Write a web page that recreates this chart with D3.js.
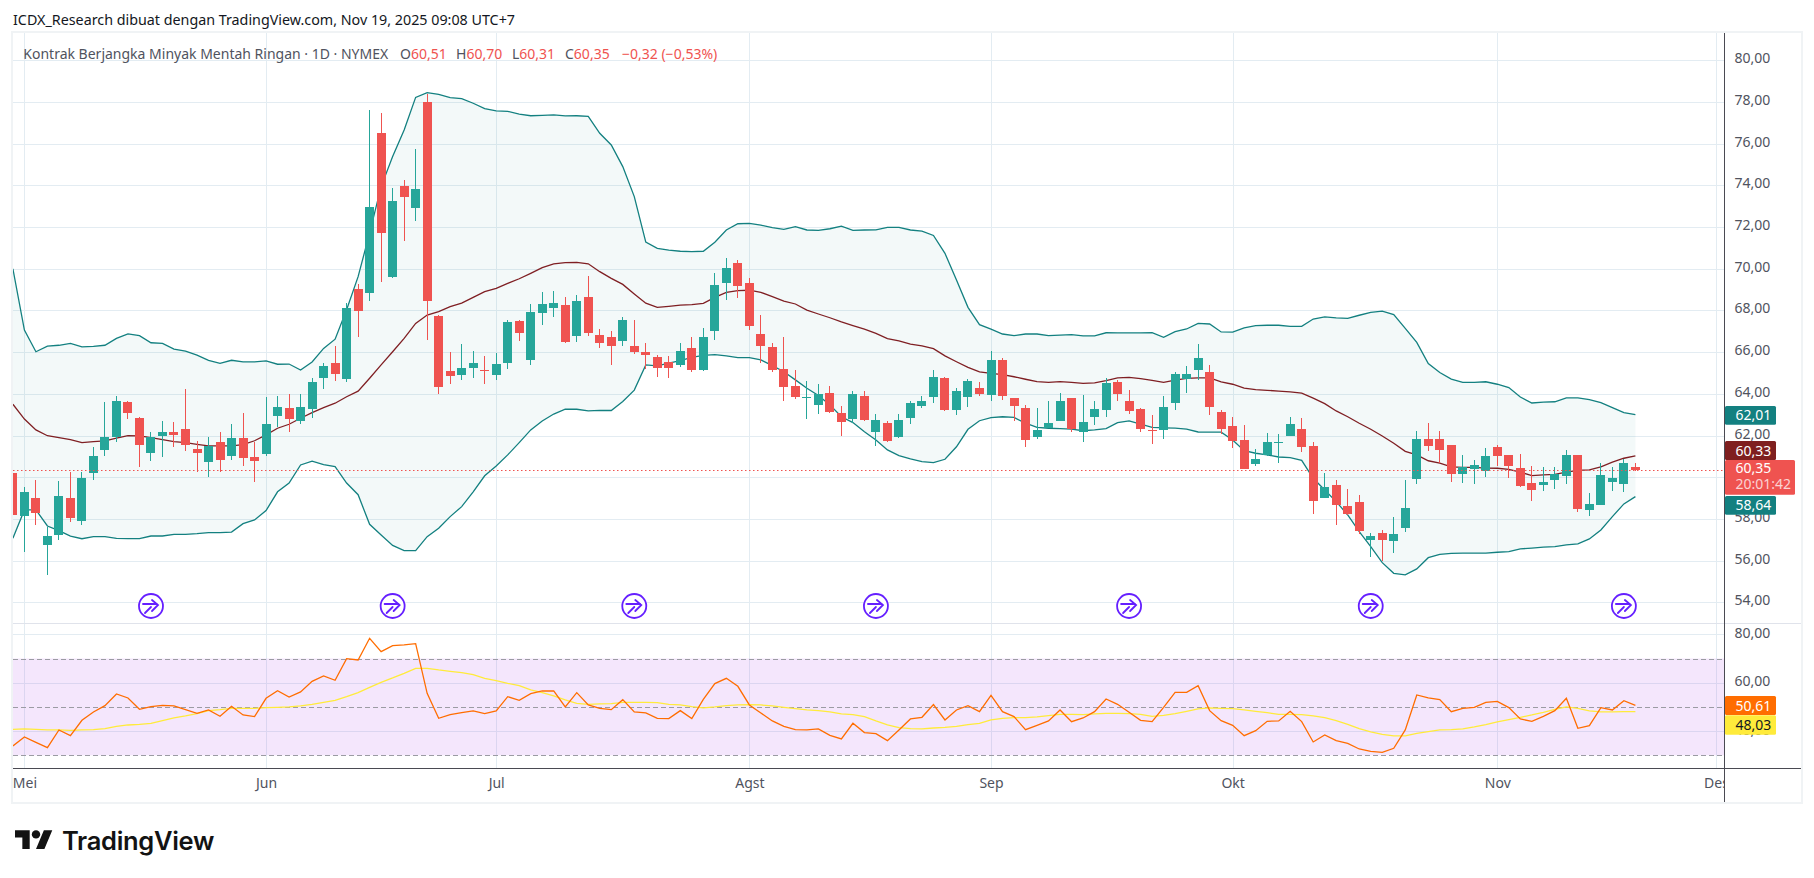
<!DOCTYPE html>
<html lang="id">
<head>
<meta charset="UTF-8">
<title>Kontrak Berjangka Minyak Mentah Ringan</title>
<script src="https://cdn.jsdelivr.net/npm/d3@7/dist/d3.min.js"></script>
<style>
	html, body { margin: 0; padding: 0; background: #fff; }
	svg { display: block; }
	text { font-family: "Noto Sans", sans-serif; }
</style>
</head>
<body>
<script>
// daily bars, first one is the bar cut off by the left edge
const opens = [60.18,58.13,58.98,56.73,57.22,58.98,57.88,60.23,61.33,61.95,63.63,62.86,61.19,61.95,62.15,62.29,61.33,60.75,61.71,60.99,61.86,60.95,
	61.09,62.96,63.34,62.72,63.30,64.76,65.46,64.73,69.05,68.86,76.53,69.62,73.99,72.93,78.02,67.75,65.11,64.92,65.26,65.16,
	64.92,65.50,67.51,65.64,67.90,68.14,68.28,66.79,68.66,66.84,66.75,66.55,66.31,66.03,65.79,65.53,65.36,66.18,65.12,66.99,69.30,70.30,
	69.34,66.85,66.23,65.17,64.36,63.84,63.45,64.02,63.06,62.77,63.92,62.15,62.58,61.91,62.82,63.45,63.83,64.74,63.25,63.83,64.26,
	63.92,65.63,63.81,63.33,61.94,62.37,62.71,63.81,62.18,62.90,63.23,64.58,63.67,63.28,62.27,62.27,63.57,64.72,65.15,65.06,63.14,
	62.47,61.80,60.64,61.08,61.68,61.99,62.32,61.50,59.00,59.62,58.61,58.80,56.98,57.32,56.93,57.56,59.91,61.82,61.82,61.54,60.15,60.39,60.29,
	61.44,61.06,60.43,59.71,59.62,59.86,60.05,61.06,58.42,58.66,59.76,59.67,60.51]
const highs = [60.40,59.51,59.89,57.60,59.84,60.27,60.27,61.47,63.63,63.92,63.68,62.91,62.19,62.72,62.63,64.21,61.76,61.91,62.15,62.53,63.06,61.71,
	63.87,63.92,63.97,63.97,64.78,65.46,66.30,68.38,69.29,77.63,77.49,73.89,74.27,75.76,78.40,67.80,66.03,66.41,66.07,65.83,
	65.98,67.56,67.56,68.33,68.90,68.95,68.66,68.76,69.67,67.13,67.03,67.70,67.56,66.46,65.88,65.82,66.42,66.75,67.14,69.78,70.54,70.40,
	69.58,67.76,66.42,66.75,65.12,64.60,64.45,64.36,63.40,64.12,64.16,63.01,62.68,63.01,63.68,63.92,65.12,64.79,64.26,64.69,64.55,
	66.04,65.73,63.81,63.47,63.33,63.67,64.05,63.81,63.95,63.67,64.77,64.67,64.19,63.33,62.99,63.91,65.06,65.34,66.40,65.39,63.23,
	62.90,62.51,61.36,62.13,62.08,62.90,62.85,61.69,60.19,59.86,59.43,59.14,57.32,57.46,58.08,59.86,62.21,62.59,62.21,61.54,61.06,60.82,61.39,
	61.54,61.06,61.10,60.53,60.48,60.48,61.30,61.06,59.23,60.67,60.48,60.86,60.70]
const lows = [58.00,56.41,57.73,55.29,57.01,57.83,57.73,59.89,61.04,61.67,62.77,60.47,60.80,60.99,61.47,61.28,60.27,60.03,60.27,60.85,60.56,59.75,
	61.04,62.39,62.19,62.53,62.82,64.25,64.62,64.59,66.75,68.47,69.38,69.57,71.35,72.31,66.60,64.01,64.49,64.68,64.78,64.49,
	64.68,65.21,66.55,65.40,67.32,67.70,66.46,66.51,66.79,66.22,65.40,66.31,65.93,65.21,64.83,64.76,65.30,65.03,65.08,66.56,68.48,68.58,
	67.04,65.46,65.03,63.64,63.73,62.77,63.01,63.06,61.96,62.58,62.68,61.48,61.67,61.86,62.53,63.30,63.54,63.16,62.97,63.35,63.88,
	63.68,63.71,62.71,61.46,61.84,62.37,62.71,62.18,61.70,62.51,62.90,63.67,63.04,62.18,61.60,61.84,63.23,64.05,64.67,62.99,62.08,
	61.41,60.40,60.55,61.00,60.69,61.99,61.22,58.24,59.00,57.70,58.20,57.27,56.16,55.97,56.36,57.36,59.67,61.25,60.67,59.76,59.71,59.67,60.00,
	60.53,59.95,59.52,58.85,59.33,59.43,59.67,58.32,58.13,58.66,59.33,59.28,60.31]
const closes = [58.16,59.27,58.26,57.16,59.08,58.02,59.94,61.04,61.95,63.68,63.10,61.57,61.95,62.15,62.00,61.52,61.14,61.52,60.85,61.86,60.90,60.75,
	62.53,63.39,62.82,63.39,64.59,65.34,64.95,68.14,67.99,72.98,71.73,73.27,73.46,73.84,68.47,64.35,64.87,65.26,65.50,65.11,
	65.45,67.46,66.94,67.94,68.33,68.38,66.51,68.47,66.94,66.46,66.31,67.56,66.03,65.88,65.26,65.24,66.04,65.12,66.71,69.20,70.02,69.20,
	67.28,66.28,65.12,64.31,63.83,63.87,63.97,63.11,62.63,63.97,62.77,62.73,61.72,62.73,63.54,63.68,64.79,63.21,64.16,64.60,63.97,
	65.60,63.91,63.43,61.80,62.28,62.61,63.67,62.32,62.66,63.28,64.53,64.00,63.19,62.32,62.23,63.38,64.96,64.96,65.73,63.38,62.32,
	61.75,60.40,60.88,61.70,61.70,62.56,61.46,58.86,59.52,58.66,58.23,57.41,57.17,56.98,57.27,58.51,61.82,61.49,61.30,60.15,60.48,60.58,61.01,
	61.01,60.53,59.57,59.38,59.76,60.15,61.06,58.47,58.71,60.10,59.95,60.67,60.35]

const bbUpper = [70.00,67.06,66.02,66.29,66.33,66.42,66.25,66.28,66.33,66.66,66.88,66.79,66.45,66.42,66.15,66.05,65.86,65.61,65.46,65.61,65.53,65.53,
	65.58,65.42,65.43,65.14,65.53,66.18,66.62,68.03,69.62,71.72,73.94,75.38,76.66,78.22,78.45,78.37,78.21,78.16,77.94,77.68,
	77.57,77.55,77.42,77.34,77.36,77.38,77.33,77.34,77.31,76.50,75.94,74.90,73.46,71.28,70.98,70.89,70.84,70.82,70.84,71.27,71.86,72.16,
	72.18,72.09,71.97,71.89,72.02,71.86,71.84,71.92,72.04,71.84,71.86,71.87,71.99,71.99,71.86,71.81,71.60,70.74,69.46,68.15,67.32,
	67.10,66.87,66.79,66.87,66.87,66.79,66.82,66.84,66.78,66.78,66.93,66.92,66.92,66.92,66.93,66.71,66.98,67.11,67.38,67.35,66.97,
	66.96,67.16,67.27,67.29,67.29,67.24,67.24,67.59,67.69,67.64,67.62,67.77,67.91,67.97,67.80,67.14,66.47,65.45,65.02,64.71,64.55,64.55,64.58,
	64.46,64.30,63.85,63.56,63.60,63.62,63.81,63.81,63.72,63.58,63.34,63.10,63.00]
const bbBasis = [63.50,62.79,62.27,61.99,61.90,61.80,61.66,61.71,61.74,61.87,61.99,61.98,61.90,61.80,61.71,61.66,61.58,61.50,61.50,61.50,61.56,61.75,
	62.03,62.35,62.54,62.83,63.10,63.34,63.55,63.86,64.13,64.75,65.39,66.02,66.66,67.38,67.78,67.94,68.18,68.35,68.63,68.90,
	69.06,69.30,69.52,69.78,70.05,70.23,70.29,70.31,70.24,69.86,69.54,69.25,68.79,68.35,68.15,68.20,68.26,68.28,68.34,68.63,68.87,68.95,
	68.97,68.87,68.66,68.45,68.31,68.02,67.83,67.65,67.45,67.27,67.10,66.90,66.65,66.54,66.38,66.30,66.17,65.82,65.54,65.27,65.05,
	64.98,64.92,64.82,64.70,64.59,64.55,64.59,64.55,64.50,64.53,64.63,64.77,64.79,64.73,64.65,64.55,64.66,64.74,64.77,64.77,64.57,
	64.46,64.27,64.20,64.17,64.13,64.09,64.03,63.79,63.53,63.18,62.90,62.59,62.30,61.98,61.63,61.24,61.07,60.79,60.68,60.50,60.47,60.47,60.44,
	60.43,60.38,60.24,60.08,60.11,60.14,60.24,60.33,60.35,60.50,60.72,60.91,61.02]
const bbLower = [57.07,58.43,58.43,57.66,57.44,57.18,57.05,57.15,57.15,57.07,57.05,57.05,57.18,57.18,57.26,57.26,57.29,57.34,57.34,57.37,57.77,57.95,
	58.40,59.30,59.72,60.59,60.77,60.60,60.51,59.72,59.16,57.74,57.23,56.73,56.48,56.48,57.15,57.55,58.11,58.59,59.30,60.07,
	60.54,61.07,61.66,62.27,62.70,63.03,63.26,63.26,63.18,63.21,63.20,63.63,64.18,65.39,65.34,65.47,65.59,65.75,65.85,65.88,65.82,65.74,
	65.74,65.63,65.35,65.06,64.67,64.27,63.92,63.47,62.90,62.62,62.18,61.79,61.31,61.04,60.88,60.75,60.70,60.86,61.46,62.30,62.71,
	62.86,62.90,62.87,62.59,62.39,62.35,62.33,62.31,62.23,62.27,62.33,62.62,62.70,62.55,62.39,62.37,62.36,62.31,62.17,62.16,62.16,
	61.79,61.27,61.15,61.07,60.97,60.94,60.81,59.95,59.39,58.83,58.19,57.39,56.67,55.90,55.39,55.32,55.60,56.14,56.30,56.35,56.36,56.36,56.36,
	56.40,56.43,56.56,56.60,56.65,56.67,56.75,56.80,57.04,57.47,58.11,58.72,59.07]

const rsiValues = [33.86,37.58,35.37,33.17,40.47,38.13,44.46,47.90,50.52,55.34,53.69,49.00,50.11,50.66,50.39,48.87,47.36,48.73,46.12,50.25,46.67,45.98,
	53.55,56.72,54.10,56.17,60.58,62.78,60.99,69.94,69.39,78.35,72.84,75.32,75.59,76.14,55.62,45.29,46.80,47.63,48.32,47.22,
	48.32,54.24,52.73,55.48,56.58,56.58,49.97,55.90,50.80,49.42,48.87,53.00,47.91,47.49,45.29,45.15,48.46,45.15,53.14,59.61,61.82,58.51,
	50.80,47.49,44.19,41.98,40.61,40.47,40.88,38.26,36.75,43.22,39.37,38.95,36.06,40.47,45.01,45.70,50.94,44.60,48.73,50.52,48.04,
	54.79,48.04,45.98,40.61,42.40,44.19,48.73,43.91,45.43,48.04,53.28,51.07,47.77,44.46,43.91,49.83,56.03,56.03,58.79,48.46,44.33,
	42.40,38.13,40.19,44.05,44.19,48.18,43.91,35.51,38.40,36.06,34.96,32.62,31.65,31.24,32.89,40.47,54.93,53.69,53.00,48.04,49.42,49.83,51.90,
	52.31,49.70,45.01,44.05,46.12,48.46,53.55,41.16,42.26,49.70,48.73,52.59,50.61]
const rsiMa = [40.74,40.88,40.74,40.47,40.47,40.33,40.47,40.60,41.02,41.98,42.53,42.81,43.22,44.33,45.43,46.25,47.22,48.46,48.87,49.42,49.42,49.42,
	49.70,49.83,49.97,50.39,51.07,51.90,52.73,54.24,55.90,58.10,60.17,61.96,63.88,65.95,65.95,65.26,64.71,64.16,63.33,61.82,
	60.85,59.75,58.79,57.00,55.90,54.52,52.87,51.49,51.07,51.21,51.35,51.90,51.90,51.90,51.76,51.07,50.80,50.11,49.56,49.97,50.52,50.80,
	50.94,50.80,50.39,49.83,49.28,48.73,48.46,47.91,47.08,46.80,45.98,44.19,42.53,41.43,41.02,40.88,41.29,41.57,41.98,42.67,43.22,
	44.60,45.29,45.56,45.56,45.84,46.39,46.94,46.94,46.80,47.08,47.36,47.36,47.22,46.94,46.12,46.53,47.22,48.18,49.15,49.56,49.42,
	49.28,48.73,48.18,47.63,46.94,46.94,46.80,46.25,45.56,44.33,42.81,41.02,39.64,38.68,37.99,37.99,39.09,39.78,40.47,40.61,40.88,41.71,42.67,
	43.77,44.74,45.70,46.67,47.77,48.99,49.97,49.42,48.32,47.91,47.91,48.04,48.03]

const priceTicks = [54,56,58,60,62,64,66,68,70,72,74,76,78,80]
const rsiTicks = [40,60,80]
const rsiLevels = [70,50,30]
const monthBars = [0,21,41,63,84,105,128,147]
const monthNames = ['Mei','Jun','Jul','Agst','Sep','Okt','Nov','Des']
const eventBars = [11,32,53,74,96,117,139]

const bars = closes.map((c, i) => ({ i: i - 1, o: opens[i], h: highs[i], l: lows[i], c: c }))

const W = 1814, H = 878
const paneL = 13, paneR = 1801, axisX = 1724.5, paneT = 33, paneB = 802
const sepY = 623.5, timeY = 768.5

const x = d3.scaleLinear().domain([-1, 140]).range([12.9, 1635.4])
const y = d3.scaleLinear().domain([54, 80]).range([602.3, 60.3])
const yRsi = d3.scaleLinear().domain([30, 80]).range([755.3, 634.3])

const GRID = '#e3ecf2', TXT = '#50535e', UP = '#26a69a', DOWN = '#ef5350', TEAL = '#138080'
const snap = v => Math.round(v) + 0.5
const fmt = v => d3.format('.2f')(v).replace('.', ',')

const svg = d3.select('body').append('svg').attr('width', W).attr('height', H)
svg.append('rect').attr('width', W).attr('height', H).attr('fill', '#fff')

const defs = svg.append('defs')
defs.append('clipPath').attr('id', 'main').append('rect')
	.attr('x', paneL).attr('y', paneT).attr('width', axisX - paneL).attr('height', sepY - paneT)
defs.append('clipPath').attr('id', 'rsi').append('rect')
	.attr('x', paneL).attr('y', sepY).attr('width', axisX - paneL).attr('height', timeY - sepY)
defs.append('clipPath').attr('id', 'time').append('rect')
	.attr('x', paneL).attr('y', timeY).attr('width', axisX - paneL).attr('height', paneB - timeY)

// outer frame
svg.append('rect').attr('x', paneL - 1).attr('y', paneT - 1).attr('width', paneR - paneL + 2).attr('height', paneB - paneT + 2)
	.attr('fill', 'none').attr('stroke', '#f0f3f5').attr('stroke-width', 2)

// grid
const grid = svg.append('g').attr('stroke', GRID).attr('stroke-width', 1).attr('shape-rendering', 'crispEdges')
grid.selectAll('.h').data(priceTicks).enter().append('line')
	.attr('x1', paneL).attr('x2', axisX).attr('y1', d => snap(y(d))).attr('y2', d => snap(y(d)))
grid.selectAll('.r').data(rsiTicks).enter().append('line')
	.attr('x1', paneL).attr('x2', axisX).attr('y1', d => snap(yRsi(d))).attr('y2', d => snap(yRsi(d)))
grid.selectAll('.v').data(monthBars).enter().append('line')
	.attr('y1', paneT).attr('y2', timeY).attr('x1', d => snap(x(d))).attr('x2', d => snap(x(d)))

// bollinger bands
const main = svg.append('g').attr('clip-path', 'url(#main)')
const band = d3.area().x((d, i) => x(i - 1)).y0((d, i) => y(bbLower[i])).y1(d => y(d))
main.append('path').attr('d', band(bbUpper)).attr('fill', '#0f8a80').attr('fill-opacity', 0.05)
const bandLine = d3.line().x((d, i) => x(i - 1)).y(d => y(d))
main.append('path').attr('d', bandLine(bbUpper)).attr('fill', 'none').attr('stroke', TEAL).attr('stroke-width', 1.3)
main.append('path').attr('d', bandLine(bbLower)).attr('fill', 'none').attr('stroke', TEAL).attr('stroke-width', 1.3)
main.append('path').attr('d', bandLine(bbBasis)).attr('fill', 'none').attr('stroke', '#7f1f23').attr('stroke-width', 1.3)

// candles
const candle = main.selectAll('.candle').data(bars).enter().append('g')
	.attr('fill', d => d.c >= d.o ? UP : DOWN).attr('shape-rendering', 'crispEdges')
candle.append('rect')
	.attr('x', d => Math.round(x(d.i) - 4.5) + 4).attr('width', 1)
	.attr('y', d => y(d.h)).attr('height', d => y(d.l) - y(d.h))
candle.append('rect')
	.attr('x', d => Math.round(x(d.i) - 4.5)).attr('width', 9)
	.attr('y', d => Math.round(y(Math.max(d.o, d.c))))
	.attr('height', d => Math.max(1, Math.round(y(Math.min(d.o, d.c)) - y(Math.max(d.o, d.c)))))

// current price line
main.append('line').attr('x1', paneL).attr('x2', axisX)
	.attr('y1', snap(y(closes[closes.length - 1]))).attr('y2', snap(y(closes[closes.length - 1])))
	.attr('stroke', DOWN).attr('stroke-dasharray', '1.5 2.5').attr('stroke-width', 1)

// event marks
const ev = svg.append('g').selectAll('g').data(eventBars).enter().append('g')
	.attr('transform', d => `translate(${x(d)},606)`)
ev.append('circle').attr('r', 12).attr('fill', '#fff').attr('stroke', '#651fff').attr('stroke-width', 1.8)
ev.append('path').attr('d', 'M-8,-2H6M-6,7L0,1M1,-6L7,-1L1,5')
	.attr('fill', 'none').attr('stroke', '#651fff').attr('stroke-width', 1.8).attr('stroke-linecap', 'round')

// rsi pane
const rsi = svg.append('g').attr('clip-path', 'url(#rsi)')
rsi.append('rect').attr('x', paneL).attr('width', axisX - paneL)
	.attr('y', yRsi(rsiLevels[0])).attr('height', yRsi(rsiLevels[2]) - yRsi(rsiLevels[0]))
	.attr('fill', '#9b27e5').attr('fill-opacity', 0.115)
rsi.selectAll('.lvl').data(rsiLevels).enter().append('line')
	.attr('x1', paneL).attr('x2', axisX).attr('y1', d => snap(yRsi(d))).attr('y2', d => snap(yRsi(d)))
	.attr('stroke', '#9b9ba3').attr('stroke-dasharray', '5 3').attr('shape-rendering', 'crispEdges')
const rsiLine = d3.line().x((d, i) => x(i - 1)).y(d => yRsi(d))
rsi.append('path').attr('d', rsiLine(rsiMa)).attr('fill', 'none').attr('stroke', '#ffeb3b').attr('stroke-width', 1.3)
rsi.append('path').attr('d', rsiLine(rsiValues)).attr('fill', 'none').attr('stroke', '#ff6d00').attr('stroke-width', 1.3)

// pane separators
svg.append('line').attr('x1', paneL).attr('x2', paneR).attr('y1', sepY).attr('y2', sepY)
	.attr('stroke', '#e0e3eb').attr('shape-rendering', 'crispEdges')
svg.append('line').attr('x1', paneL).attr('x2', paneR).attr('y1', timeY).attr('y2', timeY)
	.attr('stroke', '#4a4a52').attr('shape-rendering', 'crispEdges')

// axes, 60,00 sits fully under the price tag in the original so it gets no label
const priceAxis = d3.axisRight(y).tickValues(priceTicks.filter(d => d !== 60)).tickSize(0).tickPadding(10).tickFormat(fmt)
const rsiAxis = d3.axisRight(yRsi).tickValues(rsiTicks).tickSize(0).tickPadding(10).tickFormat(fmt)
const timeAxis = d3.axisBottom(x).tickValues(monthBars).tickSize(0).tickPadding(10).tickFormat((d, i) => monthNames[i])

function styleAxis(g, size) {
	g.select('.domain').remove()
	g.selectAll('text').attr('fill', TXT).attr('font-size', size).style('font-family', '"Noto Sans", sans-serif')
	g.attr('font-family', null)
}
svg.append('g').attr('transform', `translate(${axisX},-2)`).call(priceAxis).call(styleAxis, 14)
svg.append('g').attr('transform', `translate(${axisX},-1.5)`).call(rsiAxis).call(styleAxis, 14)
svg.append('g').attr('clip-path', 'url(#time)').append('g').attr('transform', `translate(0,${timeY})`).call(timeAxis).call(styleAxis, 14)

svg.append('line').attr('x1', axisX).attr('x2', axisX).attr('y1', paneT).attr('y2', paneB)
	.attr('stroke', '#4a4a52').attr('shape-rendering', 'crispEdges')

// last value tags on the price scale
const tagData = [
	{ y0: 406, y1: 424.7, w: 51, fill: '#138080', color: '#fff', label: '62,01' },
	{ y0: 441, y1: 460, w: 51, fill: '#7f1f1f', color: '#fff', label: '60,33' },
	{ y0: 496, y1: 514.7, w: 51, fill: '#138080', color: '#fff', label: '58,64' },
	{ y0: 696, y1: 715, w: 51, fill: '#ff6d00', color: '#fff', label: '50,61' },
	{ y0: 715.3, y1: 734.7, w: 51, fill: '#ffeb3b', color: '#131722', label: '48,03' }
]
const tags = svg.append('g').selectAll('g').data(tagData).enter().append('g')
tags.append('rect').attr('x', axisX + 0.5).attr('y', d => d.y0).attr('width', d => d.w)
	.attr('height', d => d.y1 - d.y0).attr('fill', d => d.fill).attr('rx', 1.5)
tags.append('text').attr('x', axisX + 11).attr('y', d => (d.y0 + d.y1) / 2 + 5)
	.attr('font-size', 14).attr('fill', d => d.color).text(d => d.label)

svg.append('rect').attr('x', axisX + 0.5).attr('y', 460).attr('width', 70).attr('height', 34.7)
	.attr('fill', DOWN).attr('rx', 1.5)
svg.append('text').attr('x', axisX + 11).attr('y', 473).attr('font-size', 14).attr('fill', '#fff').text('60,35')
svg.append('text').attr('x', axisX + 11).attr('y', 489).attr('font-size', 14).attr('fill', '#fff').attr('fill-opacity', 0.75).text('20:01:42')

// header and legend
svg.append('text').attr('x', 13).attr('y', 25).attr('font-size', 14.3).attr('fill', '#131722')
	.text('ICDX_Research dibuat dengan TradingView.com, Nov 19, 2025 09:08 UTC+7')

const legend = svg.append('g').attr('font-size', 14)
legend.append('text').attr('x', 23.3).attr('y', 59).attr('fill', TXT)
	.text('Kontrak Berjangka Minyak Mentah Ringan · 1D · NYMEX')
const ohlc = [
	{ k: 'O', v: fmt(opens[opens.length - 1]), x: 400 },
	{ k: 'H', v: fmt(highs[highs.length - 1]), x: 456 },
	{ k: 'L', v: fmt(lows[lows.length - 1]), x: 512 },
	{ k: 'C', v: fmt(closes[closes.length - 1]), x: 565 }
]
const ohlcText = legend.selectAll('.q').data(ohlc).enter().append('text').attr('x', d => d.x).attr('y', 59)
ohlcText.append('tspan').attr('fill', TXT).text(d => d.k)
ohlcText.append('tspan').attr('fill', DOWN).text(d => d.v)
legend.append('text').attr('x', 622).attr('y', 59).attr('fill', DOWN).text('−0,32 (−0,53%)')

// logo
const logo = svg.append('g').attr('transform', 'translate(15,826) scale(1.05)').attr('fill', '#131313')
logo.append('path').attr('d', 'M14 22H7V11H0V4h14v18zM28 22h-8l7.5-18h8L28 22z')
logo.append('circle').attr('cx', 20).attr('cy', 8).attr('r', 4)
svg.append('text').attr('x', 62).attr('y', 850).attr('font-size', 25.5).attr('font-weight', 600).attr('fill', '#131313')
	.style('font-family', 'Inter, sans-serif').style('letter-spacing', '-0.3px').text('TradingView')
</script>
</body>
</html>
